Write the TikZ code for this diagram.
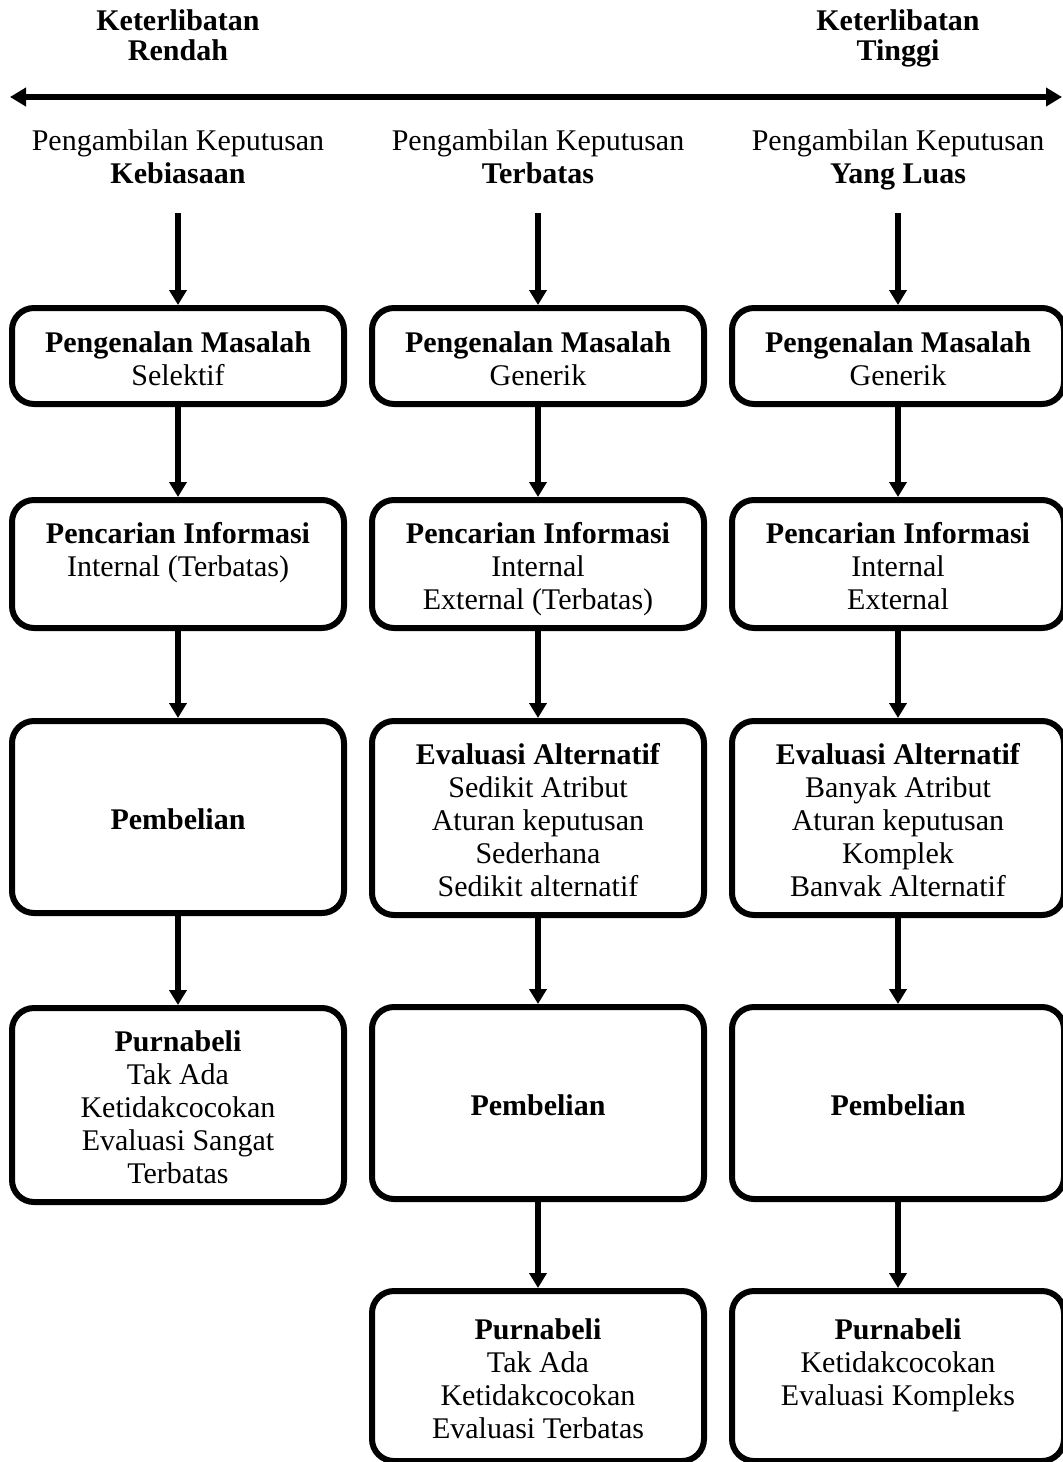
\documentclass[tikz,border=0pt]{standalone}
\usepackage{fontspec}
\setmainfont{Liberation Serif}
\usetikzlibrary{arrows.meta}
\newcommand\bodyfs{\fontsize{15}{16.5}\selectfont}
\newcommand\bx[1]{\raisebox{-3pt}[\height][\depth]{\begin{tabular}{@{}c@{}}#1\end{tabular}}}
\begin{document}
\begin{tikzpicture}[x=0.5pt,y=-0.5pt,
  strutted/.style={execute at begin node=\strut, execute at end node=\strut},
  lbl/.style={strutted, align=center, inner sep=0pt, font=\bodyfs},
  toplbl/.style={strutted, align=center, inner sep=0pt, font=\fontsize{15}{15}\selectfont\bfseries},
  box/.style={draw, line width=3pt, rounded corners=11pt, minimum width=166pt,
              inner sep=0pt, font=\bodyfs},
  flow/.style={line width=3pt, -{Triangle[width=8.5pt,length=7.5pt]}},
  bigarrow/.style={line width=3pt, {Triangle[width=9pt,length=8pt]}-{Triangle[width=9pt,length=8pt]}}
]
\useasboundingbox (0,0) rectangle (1063,1462);

% top involvement labels and arrow
\node[toplbl] (kr) at (178,40) {Keterlibatan\\Rendah};
\node[toplbl] (kt) at (898,40) {Keterlibatan\\Tinggi};
\coordinate (aL) at (10,97);
\coordinate (aR) at (1062,97);
\draw[bigarrow] (aL) -- (aR);

% column headers
\node[lbl] (h1) at (178,162) {Pengambilan Keputusan\\\textbf{Kebiasaan}};
\node[lbl] (h2) at (538,162) {Pengambilan Keputusan\\\textbf{Terbatas}};
\node[lbl] (h3) at (898,162) {Pengambilan Keputusan\\\textbf{Yang Luas}};
\coordinate (s1) at (178,213);
\coordinate (s2) at (538,213);
\coordinate (s3) at (898,213);

% column 1
\node[box, minimum height=48pt] (a1) at (178,356) {\bx{\textbf{Pengenalan Masalah}\\Selektif}};
\node[box, minimum height=64pt] (a2) at (178,564) {\bx{\textbf{Pencarian Informasi}\\Internal (Terbatas)\\ {}}};
\node[box, minimum height=96pt] (a3) at (178,817) {\bx{\textbf{Pembelian}}};
\node[box, minimum height=97pt] (a4) at (178,1105) {\bx{\textbf{Purnabeli}\\Tak Ada\\Ketidakcocokan\\Evaluasi Sangat\\Terbatas}};

% column 2
\node[box, minimum height=48pt] (b1) at (538,356) {\bx{\textbf{Pengenalan Masalah}\\Generik}};
\node[box, minimum height=64pt] (b2) at (538,564) {\bx{\textbf{Pencarian Informasi}\\Internal\\External (Terbatas)}};
\node[box, minimum height=97pt] (b3) at (538,818) {\bx{\textbf{Evaluasi Alternatif}\\Sedikit Atribut\\Aturan keputusan\\Sederhana\\Sedikit alternatif}};
\node[box, minimum height=96pt] (b4) at (538,1103) {\bx{\textbf{Pembelian}}};
\node[box, minimum height=85pt] (b5) at (538,1376) {\bx{\textbf{Purnabeli}\\Tak Ada\\Ketidakcocokan\\Evaluasi Terbatas}};

% column 3
\node[box, minimum height=48pt] (c1) at (898,356) {\bx{\textbf{Pengenalan Masalah}\\Generik}};
\node[box, minimum height=64pt] (c2) at (898,564) {\bx{\textbf{Pencarian Informasi}\\Internal\\External}};
\node[box, minimum height=97pt] (c3) at (898,818) {\bx{\textbf{Evaluasi Alternatif}\\Banyak Atribut\\Aturan keputusan\\Komplek\\Banvak Alternatif}};
\node[box, minimum height=96pt] (c4) at (898,1103) {\bx{\textbf{Pembelian}}};
\node[box, minimum height=85pt] (c5) at (898,1376) {\bx{\textbf{Purnabeli}\\Ketidakcocokan\\Evaluasi Kompleks\\ {}}};

% connectors
\draw[flow] (s1) -- (a1.north);
\draw[flow] (a1.south) -- (a2.north);
\draw[flow] (a2.south) -- (a3.north);
\draw[flow] (a3.south) -- (a4.north);

\draw[flow] (s2) -- (b1.north);
\draw[flow] (b1.south) -- (b2.north);
\draw[flow] (b2.south) -- (b3.north);
\draw[flow] (b3.south) -- (b4.north);
\draw[flow] (b4.south) -- (b5.north);

\draw[flow] (s3) -- (c1.north);
\draw[flow] (c1.south) -- (c2.north);
\draw[flow] (c2.south) -- (c3.north);
\draw[flow] (c3.south) -- (c4.north);
\draw[flow] (c4.south) -- (c5.north);
\end{tikzpicture}
\end{document}
